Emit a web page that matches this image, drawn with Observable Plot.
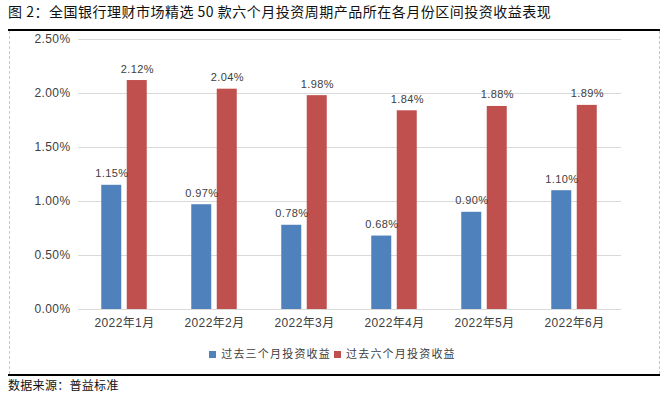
<!DOCTYPE html>
<html><head><meta charset="utf-8">
<script src="https://cdn.jsdelivr.net/npm/d3@7"></script>
<script src="https://cdn.jsdelivr.net/npm/@observablehq/plot@0.6"></script>
<style>
html,body{margin:0;padding:0;background:#fff;}
#wrap{position:relative;width:668px;height:396px;overflow:hidden;font-family:"Liberation Sans","Noto Sans CJK SC",sans-serif;}
#title{position:absolute;left:8px;top:2px;font-family:"Noto Sans CJK SC",sans-serif;font-size:14px;line-height:18px;letter-spacing:0.5px;color:#111;white-space:nowrap;}
#topline{position:absolute;left:8px;width:652px;top:29px;height:2px;background:#000;}
#frame{position:absolute;left:9px;width:651px;top:31px;height:343px;border-left:1px dashed #c8c8c8;border-right:1px dashed #c8c8c8;box-sizing:border-box;}
#botline{position:absolute;left:8px;width:652px;top:374px;height:2px;background:#000;}
#chart{position:absolute;left:0;top:30px;}
#legend{position:absolute;left:0;width:668px;top:345px;text-align:center;font-family:"Noto Sans CJK SC",sans-serif;font-size:11px;letter-spacing:1.2px;color:#404040;white-space:nowrap;}
#legend span.sw{display:inline-block;width:7px;height:7px;margin-right:5px;vertical-align:0px;}
#legend span.it{margin-right:3px;}
#source{position:absolute;left:8px;top:377px;font-family:"Noto Sans CJK SC",sans-serif;font-size:12px;line-height:16px;letter-spacing:0.3px;color:#111;}
</style></head>
<body><div id="wrap">
<div id="title">图 2：全国银行理财市场精选 50 款六个月投资周期产品所在各月份区间投资收益表现</div>
<div id="topline"></div>
<div id="frame"></div>
<div id="chart"></div>
<div id="legend"></div>
<div id="botline"></div>
<div id="source">数据来源：普益标准</div>
</div>
<script>
const months = ["2022年1月","2022年2月","2022年3月","2022年4月","2022年5月","2022年6月"];
const threeMonth = [1.15, 0.97, 0.78, 0.68, 0.90, 1.10];
const sixMonth = [2.12, 2.04, 1.98, 1.84, 1.88, 1.89];
const seriesNames = ["过去三个月投资收益","过去六个月投资收益"];
const seriesColors = ["#4f81bd","#c0504d"];
const yTicks = [0, 0.5, 1, 1.5, 2, 2.5];

const blue = months.map((m,i)=>({month:m, value:threeMonth[i]}));
const red = months.map((m,i)=>({month:m, value:sixMonth[i]}));
const off = 12.75;
const fmt = d => d.toFixed(2) + "%";

const chart = Plot.plot({
  width: 668, height: 320,
  marginTop: 9, marginBottom: 41, marginLeft: 78, marginRight: 47,
  style: {fontFamily: "'Liberation Sans','Noto Sans CJK SC',sans-serif", fontSize: "12px", color: "#404040", background: "transparent", letterSpacing: "0.4px"},
  x: {domain: months, paddingInner: 0.7735, paddingOuter: 0.387, align: 0.5, label: null, tickSize: 0, tickPadding: 9},
  y: {domain: [0, 2.5], ticks: yTicks, tickFormat: fmt, label: null, tickSize: 0, tickPadding: 8},
  marks: [
    Plot.ruleY(yTicks.filter(d => d > 0), {stroke: "#d9d9d9", strokeWidth: 1}),
    Plot.barY(blue, {x: "month", y: "value", fill: seriesColors[0], dx: -off}),
    Plot.barY(red, {x: "month", y: "value", fill: seriesColors[1], dx: off}),
    Plot.ruleY([0], {stroke: "#d9d9d9", strokeWidth: 1}),
    Plot.text(blue, {x: "month", y: "value", text: d => fmt(d.value), dx: -off, dy: -8, lineAnchor: "bottom", fill: "#404040", fontSize: 11}),
    Plot.text(red, {x: "month", y: "value", text: d => fmt(d.value), dx: off, dy: -8, lineAnchor: "bottom", fill: "#404040", fontSize: 11})
  ]
});
document.getElementById("chart").appendChild(chart);

const leg = document.getElementById("legend");
seriesNames.forEach((n,i)=>{
  const sw = document.createElement("span"); sw.className="sw"; sw.style.background = seriesColors[i];
  const t = document.createElement("span"); t.className="it"; t.textContent = n;
  leg.appendChild(sw); leg.appendChild(t);
});
</script>
</body></html>
